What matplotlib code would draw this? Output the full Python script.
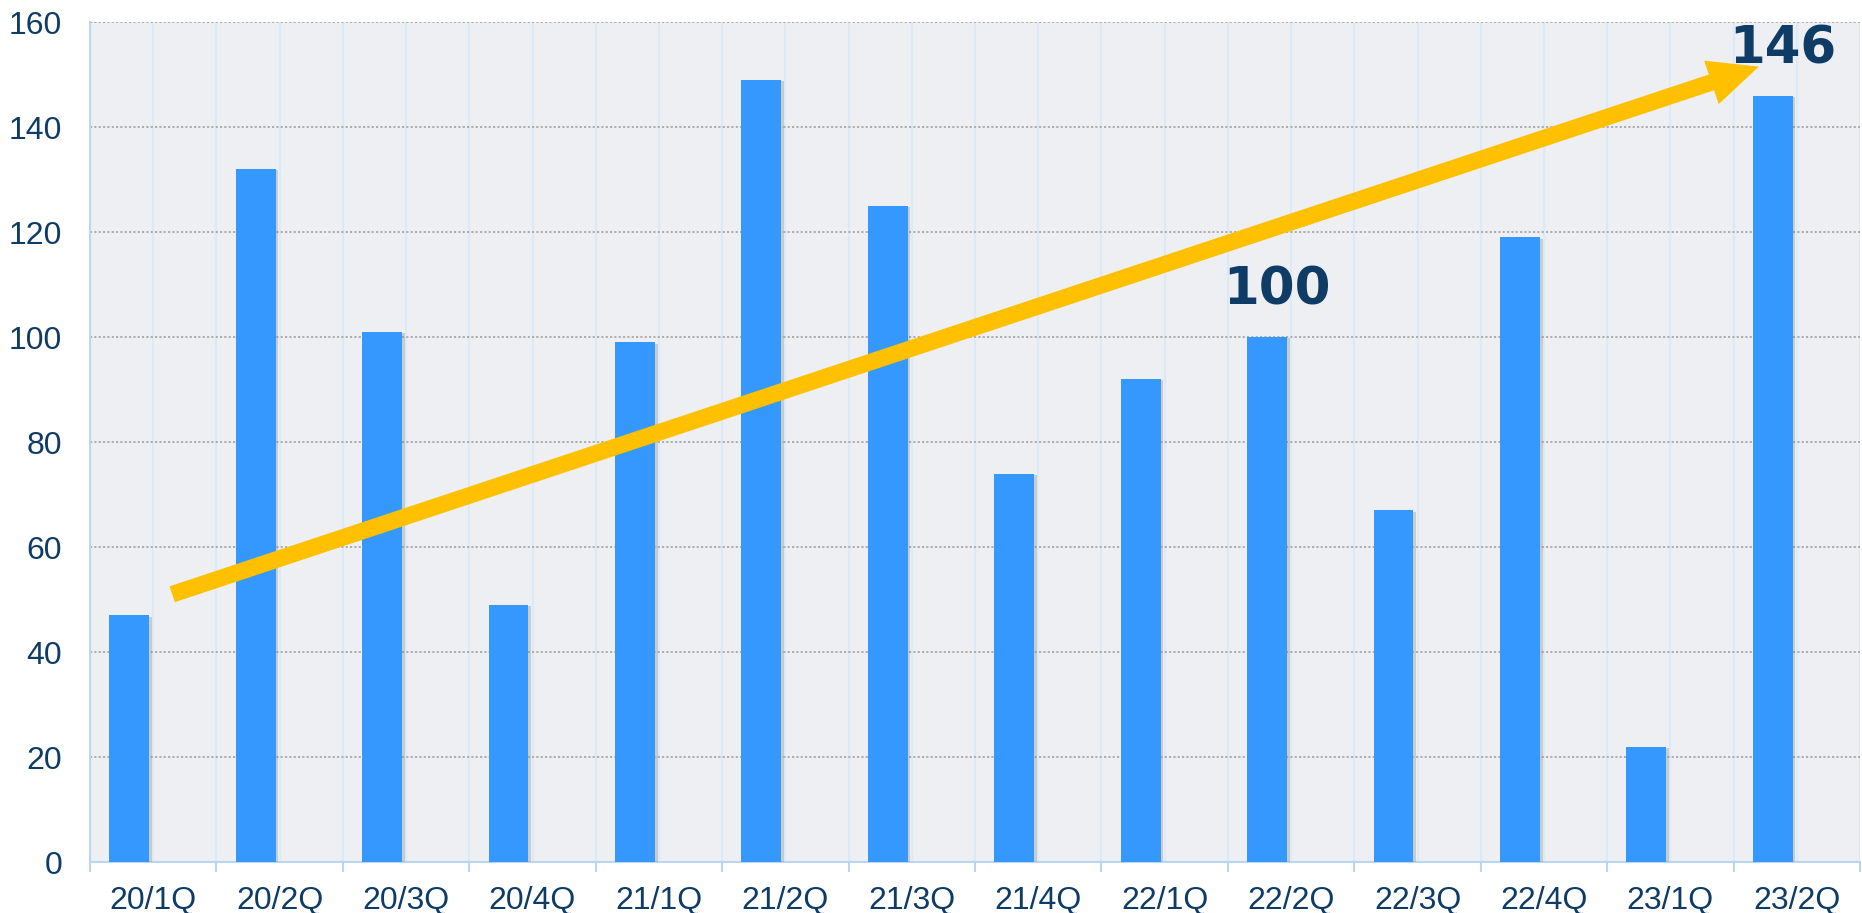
import matplotlib
matplotlib.use("Agg")
import matplotlib.pyplot as plt
import matplotlib.patheffects as pe
import numpy as np

categories = ["20/1Q", "20/2Q", "20/3Q", "20/4Q", "21/1Q", "21/2Q", "21/3Q",
              "21/4Q", "22/1Q", "22/2Q", "22/3Q", "22/4Q", "23/1Q", "23/2Q"]
values = [47, 132, 101, 49, 99, 149, 125, 74, 92, 100, 67, 119, 22, 146]
yticks = [0, 20, 40, 60, 80, 100, 120, 140, 160]
highlight_idx = [9, 13]
arrow_start = (0.15, 51)
arrow_end = (12.7, 151.5)

BG = "#EDEFF2"
BAR = "#3598FF"
TXT = "#0F3C66"
VGRID = "#DCEAF7"
SPINE = "#BBD6F0"

fig = plt.figure(figsize=(18.62, 9.13), dpi=100)
ax = fig.add_axes([90 / 1862, 51 / 913, 1770 / 1862, 840 / 913])
ax.set_facecolor(BG)

x = np.arange(len(categories))
bars = ax.bar(x - 0.19, values, width=0.315, color=BAR, zorder=3)
for b in bars:
    b.set_path_effects([pe.SimplePatchShadow(offset=(2, -1), shadow_rgbFace="#888888", alpha=0.35),
                        pe.Normal()])

ax.set_xlim(-0.5, len(categories) - 0.5)
ax.set_ylim(0, 160)

# vertical light grid at half-category steps
for v in np.arange(-0.5, len(categories), 0.5):
    ax.axvline(v, color=VGRID, lw=1.5, zorder=1)
# horizontal dotted grid
for t in yticks[1:]:
    ax.axhline(t, color="#A8A8A8", lw=1.3, ls=(0, (1.2, 1.2)), zorder=2)

ax.set_yticks(yticks)
ax.set_yticklabels([str(t) for t in yticks])
ax.tick_params(axis="y", length=0, pad=20, labelsize=23, labelcolor=TXT)
ax.set_xticks(x)
ax.set_xticklabels(categories)
ax.tick_params(axis="x", which="major", length=0, pad=17, labelsize=23, labelcolor=TXT)
ax.set_xticks(np.arange(-0.5, len(categories), 1.0), minor=True)
ax.tick_params(axis="x", which="minor", length=7, width=1.5, color=SPINE)
for lab in ax.get_xticklabels() + ax.get_yticklabels():
    lab.set_family(["Liberation Sans", "DejaVu Sans"])

for s in ["top", "right"]:
    ax.spines[s].set_visible(False)
ax.spines["left"].set_color(SPINE)
ax.spines["left"].set_linewidth(1.5)
ax.spines["bottom"].set_color(SPINE)
ax.spines["bottom"].set_linewidth(1.5)

ax.annotate("", xy=arrow_end, xytext=arrow_start,
            arrowprops=dict(arrowstyle="simple,tail_width=12,head_width=33,head_length=36",
                            mutation_scale=1, color="#FFC000", lw=0, shrinkA=0, shrinkB=0),
            zorder=5)

for i in highlight_idx:
    ax.text(i - 0.11, values[i] + 6.1, str(values[i]), ha="center", va="baseline",
            fontsize=37, fontweight="bold", color=TXT, family="DejaVu Sans", zorder=6)

fig.savefig("out.png", dpi=100, facecolor="white")
